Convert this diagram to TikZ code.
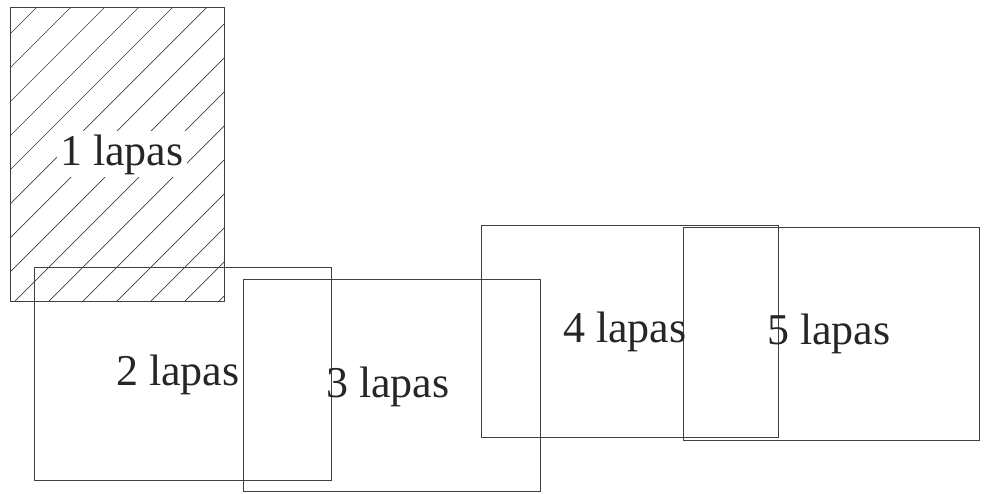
\documentclass[tikz,border=0pt]{standalone}
\usepackage{fontspec}
\setmainfont{Liberation Serif}
\begin{document}
\begin{tikzpicture}[x=1pt,y=-1pt,
  box/.style={draw=black!75,line width=0.8pt,inner sep=0pt,outer sep=0pt},
  hatchline/.style={draw=black!75,line width=0.7pt},
  lbl/.style={anchor=base west,inner sep=0pt,font=\fontsize{44}{48}\selectfont,text=black!85}]
\useasboundingbox (0,0) rectangle (987,493);
% hatching of box 1
\begin{scope}
  \clip (10,7) rectangle (224,301.5);
  \foreach \c in {44,78,...,530} \draw[hatchline] (\c+100,-100) -- (\c-450,450);
\end{scope}
\node[box,minimum width=214pt,minimum height=294.5pt] (r1) at (117,154.25) {};
\node[box,minimum width=297pt,minimum height=213pt] (r2) at (182.5,374) {};
\node[box,minimum width=296.5pt,minimum height=212.5pt] (r3) at (391.75,385.25) {};
\node[box,minimum width=296.5pt,minimum height=212pt] (r4) at (629.75,331.5) {};
\node[box,minimum width=296pt,minimum height=213pt] (r5) at (831,334.2) {};
\node[lbl,fill=white,inner sep=3pt] (t1) at (57,165) {1 lapas};
\node[lbl] (t2) at (116,385) {2 lapas};
\node[lbl] (t3) at (326,397) {3 lapas};
\node[lbl] (t4) at (563,342) {4 lapas};
\node[lbl] (t5) at (767,344) {5 lapas};
\end{tikzpicture}
\end{document}
